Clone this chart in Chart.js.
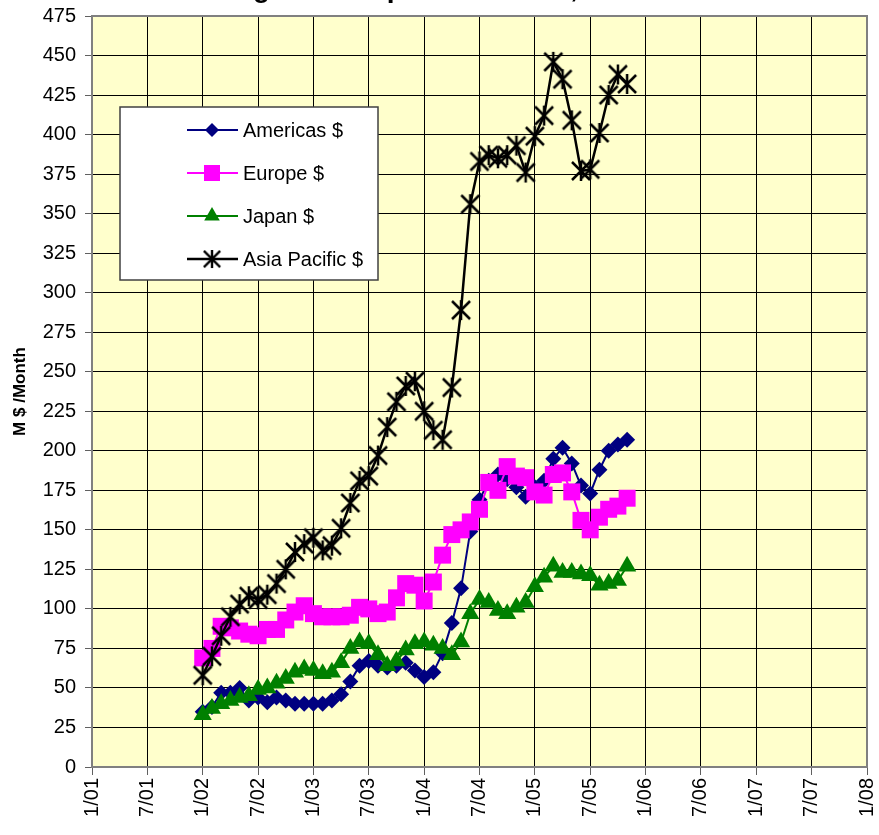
<!DOCTYPE html>
<html lang="en">
<head>
    <meta charset="UTF-8">
    <title>Regional Shipments</title>
    <script src="https://cdn.jsdelivr.net/npm/chart.js@4.4.1/dist/chart.umd.min.js"></script>
    <style>
        html, body { margin: 0; padding: 0; background: #fff; }
        #wrap { width: 879px; height: 835px; }
    </style>
</head>
<body>
    <div id="wrap"><canvas id="myChart" width="879" height="835"></canvas></div>
    <script>
        // monthly data points, Jan 2002 .. Nov 2005
        const months = [
            '1/02', '2/02', '3/02', '4/02', '5/02', '6/02', '7/02', '8/02', '9/02', '10/02', '11/02', '12/02',
            '1/03', '2/03', '3/03', '4/03', '5/03', '6/03', '7/03', '8/03', '9/03', '10/03', '11/03', '12/03',
            '1/04', '2/04', '3/04', '4/04', '5/04', '6/04', '7/04', '8/04', '9/04', '10/04', '11/04', '12/04',
            '1/05', '2/05', '3/05', '4/05', '5/05', '6/05', '7/05', '8/05', '9/05', '10/05', '11/05'
        ];
        const americas = [35, 38, 47, 47, 50, 42, 44, 41, 44, 42, 40, 40, 40, 40, 42, 46, 54, 64, 67, 64, 63, 64, 66, 61,
                          57, 60, 72, 91, 113, 149, 169, 181, 185, 182, 177, 171, 177, 181, 195, 202, 192, 178, 173, 188, 200, 204, 207];
        const europe   = [69, 75, 89, 88, 86, 84, 83, 87, 87, 93, 98, 102, 97, 95, 95, 95, 96, 101, 100, 97, 98, 107, 116, 115,
                          105, 117, 134, 147, 150, 155, 163, 180, 175, 190, 184, 183, 174, 172, 185, 186, 174, 156, 150, 158, 163, 165, 170];
        const japan    = [33, 37, 40, 42, 44, 45, 49, 50, 53, 56, 60, 62, 61, 59, 60, 66, 75, 79, 78, 71, 64, 67, 74, 78,
                          79, 77, 75, 71, 79, 97, 106, 104, 99, 97, 101, 104, 114, 120, 127, 123, 123, 122, 121, 115, 116, 118, 127];
        const asiaPac  = [58, 70, 83, 95, 103, 108, 106, 109, 116, 125, 136, 141, 145, 137, 140, 151, 167, 181, 184, 197, 215, 231, 241, 244,
                          225, 213, 207, 240, 289, 356, 383, 387, 385, 387, 393, 376, 399, 412, 446, 435, 409, 377, 378, 401, 425, 438, 432];
        const seriesNames = ['Americas $', 'Europe $', 'Japan $', 'Asia Pacific $'];

        const FONT = 'Arial, "Liberation Sans", sans-serif';

        // months since 1/01 -> x value
        function monthIndex(lbl) {
            const [m, y] = lbl.split('/').map(Number);
            return (y - 1) * 12 + (m - 1);
        }
        function toPoints(vals) {
            return vals.map((v, i) => ({ x: monthIndex(months[i]), y: v }));
        }

        // Excel style asterisk marker: X plus a vertical bar
        function starMarker(size) {
            const c = document.createElement('canvas');
            c.width = c.height = size;
            const g = c.getContext('2d');
            const m = size / 2, r = size / 2 - 2;
            g.strokeStyle = '#000';
            g.lineWidth = 2.5;
            g.beginPath();
            g.moveTo(m - r, m - r); g.lineTo(m + r, m + r);
            g.moveTo(m + r, m - r); g.lineTo(m - r, m + r);
            g.moveTo(m, m - r - 1); g.lineTo(m, m + r + 1);
            g.stroke();
            return c;
        }
        const star = starMarker(22);

        const colors = ['#000080', '#FF00FF', '#008000', '#000000'];
        const styles = ['rectRot', 'rect', 'triangle', star];
        const radii = [8, 12, 10.5, 10];

        const plotPlugin = {
            id: 'plotDeco',
            beforeDraw(chart) {
                const { ctx, chartArea: a } = chart;
                ctx.save();
                ctx.fillStyle = '#FFFFCC';
                ctx.fillRect(a.left, a.top, a.right - a.left, a.bottom - a.top);
                ctx.restore();
            },
            afterDraw(chart) {
                const { ctx, chartArea: a } = chart;
                ctx.save();
                // plot border
                ctx.strokeStyle = '#808080';
                ctx.lineWidth = 2;
                ctx.strokeRect(a.left, a.top, a.right - a.left, a.bottom - a.top);

                // title, cut off at the top edge (only descenders show)
                ctx.fillStyle = '#000';
                ctx.font = 'bold 28px ' + FONT;
                ctx.textBaseline = 'alphabetic';
                const title = 'Regional Shipment Trends, 3MMA';
                const x0 = 253 - ctx.measureText('Re').width;
                ctx.fillText(title, x0, -3);

                // y axis title
                ctx.save();
                ctx.translate(20, (a.top + a.bottom) / 2);
                ctx.rotate(-Math.PI / 2);
                ctx.font = 'bold 17px ' + FONT;
                ctx.textAlign = 'center';
                ctx.textBaseline = 'middle';
                ctx.fillText('M $ /Month', 0, 0);
                ctx.restore();

                // legend box
                const bx = 120, by = 107, bw = 258, bh = 173;
                ctx.fillStyle = '#fff';
                ctx.fillRect(bx, by, bw, bh);
                ctx.strokeStyle = '#404040';
                ctx.lineWidth = 1.5;
                ctx.strokeRect(bx, by, bw, bh);
                ctx.font = '20px ' + FONT;
                ctx.textBaseline = 'middle';
                ctx.textAlign = 'left';
                seriesNames.forEach((name, i) => {
                    const y = 130 + i * 43;
                    ctx.strokeStyle = colors[i];
                    ctx.lineWidth = i === 3 ? 2.5 : 2;
                    ctx.beginPath();
                    ctx.moveTo(187, y); ctx.lineTo(238, y);
                    ctx.stroke();
                    drawMarker(ctx, i, 212, y);
                    ctx.fillStyle = '#000';
                    ctx.fillText(name, 243, y + 1);
                });
                ctx.restore();
            }
        };

        function drawMarker(ctx, i, x, y) {
            ctx.fillStyle = colors[i];
            ctx.beginPath();
            if (i === 0) {
                const r = 7;
                ctx.moveTo(x - r, y); ctx.lineTo(x, y - r); ctx.lineTo(x + r, y); ctx.lineTo(x, y + r);
                ctx.closePath(); ctx.fill();
            } else if (i === 1) {
                ctx.fillRect(x - 8, y - 8, 16, 16);
            } else if (i === 2) {
                const r = 9;
                ctx.moveTo(x, y - r);
                ctx.lineTo(x + r * 0.866, y + r / 2);
                ctx.lineTo(x - r * 0.866, y + r / 2);
                ctx.closePath(); ctx.fill();
            } else {
                ctx.drawImage(star, x - 10, y - 10, 20, 20);
            }
        }

        const series = [americas, europe, japan, asiaPac];
        const datasets = series.map((vals, i) => ({
            label: seriesNames[i],
            data: toPoints(vals),
            borderColor: colors[i],
            backgroundColor: colors[i],
            borderWidth: i === 3 ? 2.5 : 2,
            pointStyle: styles[i],
            pointRadius: radii[i],
            pointBorderWidth: 0,
            pointBorderColor: colors[i],
            tension: 0,
            order: 4 - i
        }));

        const ctx = document.getElementById('myChart').getContext('2d');
        const chart = new Chart(ctx, {
            type: 'line',
            data: { datasets },
            plugins: [plotPlugin],
            options: {
                responsive: false,
                animation: false,
                devicePixelRatio: 1,
                events: [],
                layout: { padding: { top: 16, right: 11, left: 0, bottom: 0 } },
                plugins: {
                    legend: { display: false },
                    tooltip: { enabled: false },
                    title: { display: false }
                },
                scales: {
                    x: {
                        type: 'linear',
                        min: 0,
                        max: 84,
                        afterFit(scale) {
                            scale.height = 68;
                            scale.paddingLeft = 0;
                            scale.paddingRight = 0;
                        },
                        ticks: {
                            stepSize: 6,
                            autoSkip: false,
                            maxRotation: 90,
                            minRotation: 90,
                            padding: 3,
                            color: '#000',
                            font: { family: FONT, size: 20 },
                            callback: (v) => {
                                if (v % 6 !== 0) return '';
                                const yy = Math.floor(v / 12) + 1;
                                return ((v % 12) + 1) + '/' + String(yy).padStart(2, '0');
                            }
                        },
                        grid: { color: '#000', lineWidth: 1, tickLength: 8, tickColor: '#606060' },
                        border: { color: '#808080', width: 2 }
                    },
                    y: {
                        min: 0,
                        max: 475,
                        afterFit(scale) {
                            scale.width = 92;
                            scale.paddingTop = 0;
                            scale.paddingBottom = 0;
                        },
                        ticks: {
                            stepSize: 25,
                            padding: 9,
                            color: '#000',
                            font: { family: FONT, size: 20 }
                        },
                        grid: { color: '#000', lineWidth: 1, tickLength: 7, tickColor: '#606060' },
                        border: { color: '#808080', width: 2 }
                    }
                }
            }
        });
    </script>
</body>
</html>
